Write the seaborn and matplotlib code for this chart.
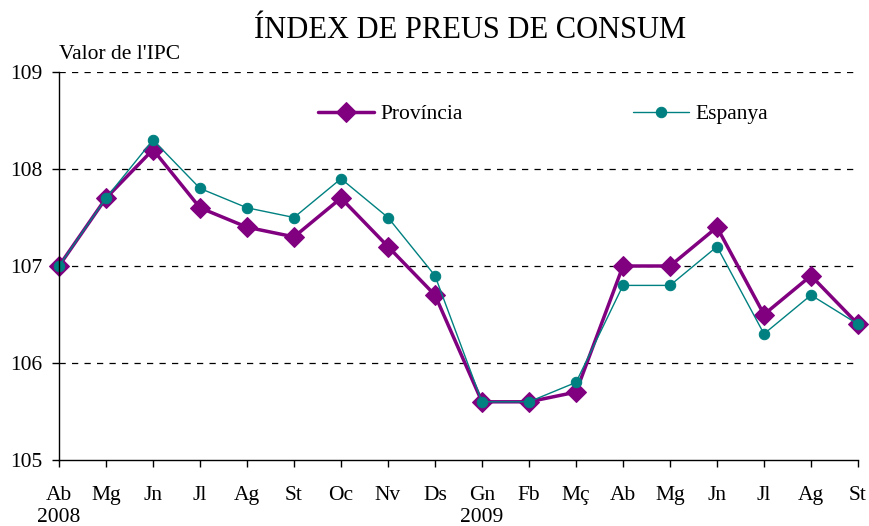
import matplotlib
matplotlib.use("Agg")
import matplotlib.pyplot as plt
import seaborn as sns
import pandas as pd

months = ["Ab", "Mg", "Jn", "Jl", "Ag", "St", "Oc", "Nv", "Ds",
          "Gn", "Fb", "Mç", "Ab", "Mg", "Jn", "Jl", "Ag", "St"]
years = {0: "2008", 9: "2009"}
provincia = [107.0, 107.7, 108.2, 107.6, 107.4, 107.3, 107.7, 107.2, 106.7,
             105.6, 105.6, 105.7, 107.0, 107.0, 107.4, 106.5, 106.9, 106.4]
espanya = [107.0, 107.7, 108.3, 107.8, 107.6, 107.5, 107.9, 107.5, 106.9,
           105.6, 105.6, 105.8, 106.8, 106.8, 107.2, 106.3, 106.7, 106.4]
yticks = [105, 106, 107, 108, 109]

sns.set_style("white")
plt.rcParams['font.family'] = ['Liberation Serif', 'DejaVu Serif']
plt.rcParams['text.color'] = 'black'

idx = list(range(len(months)))
df = pd.DataFrame({"x": idx * 2,
                   "val": provincia + espanya,
                   "serie": ["Província"] * len(idx) + ["Espanya"] * len(idx)})

fig = plt.figure(figsize=(8.7, 5.26), dpi=100)
ax = fig.add_axes([59/870, 1-460/526, (858-59)/870, (460-72)/526])

sns.lineplot(data=df[df.serie == "Província"], x="x", y="val", ax=ax,
             color="#800080", linewidth=2.5, marker="D", markersize=10,
             markeredgecolor="#800080", label="Província", clip_on=False)
sns.lineplot(data=df[df.serie == "Espanya"], x="x", y="val", ax=ax,
             color="#008080", linewidth=1.0, marker="o", markersize=7.5,
             markeredgecolor="#008080", label="Espanya", clip_on=False)

ax.set_xlim(0, len(months) - 1)
ax.set_ylim(105, 109)
ax.set_yticks(yticks)
ax.set_yticklabels([str(v) for v in yticks])
ax.set_xticks(idx)
ax.set_xticklabels([m + ("\n" + years[i] if i in years else "") for i, m in enumerate(months)])
ax.set_xlabel("")
ax.set_ylabel("")

for v in yticks[1:]:
    ax.axhline(v, color="black", linestyle=(0, (5, 5)), linewidth=0.9, zorder=0)

for s in ["top", "right"]:
    ax.spines[s].set_visible(False)
for s in ["left", "bottom"]:
    ax.spines[s].set_color("black")
    ax.spines[s].set_linewidth(1.0)

ax.tick_params(axis="both", which="major", direction="out", length=5, width=1,
               color="black", labelsize=15.5, labelcolor="black", bottom=True, left=True)
ax.tick_params(axis="x", pad=14)
ax.tick_params(axis="y", pad=7)

leg = ax.legend(loc="upper left", bbox_to_anchor=(0.30, 0.967), ncol=2, frameon=False,
                fontsize=15.5, handlelength=2.6, columnspacing=7.9, handletextpad=0.3)
for t in leg.get_texts():
    t.set_color("black")

ax.text(0.0, 1.034, "Valor de l'IPC", transform=ax.transAxes, ha="left",
        va="baseline", fontsize=15.5, color="black")
fig.text(470/870, 1-38/526, "ÍNDEX DE PREUS DE CONSUM", ha="center",
         va="baseline", fontsize=22, color="black")

fig.savefig("out.png", dpi=100)
